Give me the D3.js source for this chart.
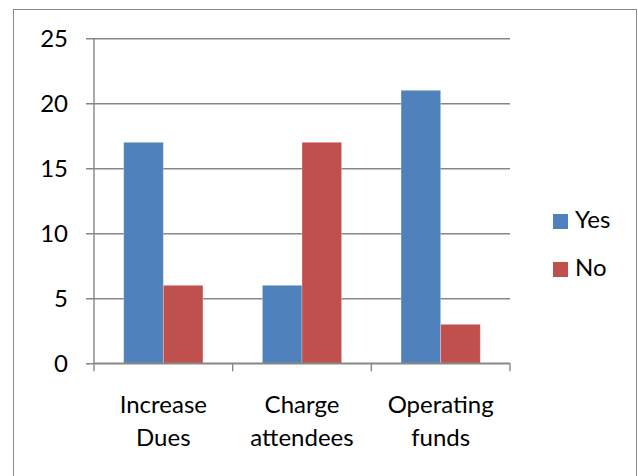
<!DOCTYPE html>
<html>
<head>
<meta charset="utf-8">
<script src="https://cdn.jsdelivr.net/npm/d3@7"></script>
<style>
  html, body { margin: 0; padding: 0; background: #fff; }
  svg { display: block; }
  text { font-family: Lato, "Open Sans", sans-serif; fill: #000; }
</style>
</head>
<body>
<svg id="chart" width="638" height="476"></svg>
<script>
// Survey responses per funding option
const categories = [["Increase", "Dues"], ["Charge", "attendees"], ["Operating", "funds"]];
const seriesNames = ["Yes", "No"];
const yesValues = [17, 6, 21];
const noValues = [6, 17, 3];
const yTicks = [0, 5, 10, 15, 20, 25];
const colors = { Yes: "#4F81BD", No: "#C0504D" };

const svg = d3.select("#chart");
const W = 638, H = 476;
const plot = { left: 94, right: 510, top: 38.3, bottom: 363.3 };
const gridColor = "#878787";
const fontSize = 24;

// outer frame
svg.append("rect")
  .attr("x", 13.5).attr("y", 9.5)
  .attr("width", 623).attr("height", 475)
  .attr("fill", "#fff").attr("stroke", "#8a8a8a").attr("stroke-width", 1);

const catKeys = categories.map(c => c.join(" "));
const x0 = d3.scaleBand().domain(catKeys).range([plot.left, plot.right]).padding(0);
const x1 = d3.scaleBand().domain(seriesNames).range([0, x0.bandwidth()])
  .paddingInner(0).paddingOuter(0.75);
const y = d3.scaleLinear().domain([0, 25]).range([plot.bottom, plot.top]);

// horizontal gridlines with left tick stubs
const yAxis = d3.axisLeft(y).tickValues(yTicks)
  .tickSize(plot.right - plot.left + 8).tickSizeOuter(0).tickPadding(18)
  .tickFormat(d3.format("d"));
const gy = svg.append("g").attr("transform", `translate(${plot.right},0)`).call(yAxis);
gy.select(".domain").remove();
gy.selectAll(".tick line").attr("stroke", gridColor).attr("stroke-width", 1.4);
gy.selectAll(".tick text")
  .attr("x", -(plot.right - plot.left) - 26)
  .style("font-size", fontSize + "px")
  .attr("dy", "0.35em");

// vertical axis line
svg.append("line")
  .attr("x1", plot.left).attr("x2", plot.left)
  .attr("y1", plot.top).attr("y2", plot.bottom)
  .attr("stroke", gridColor).attr("stroke-width", 1.4);

// bars
const rows = catKeys.map((k, i) => ({ key: k, Yes: yesValues[i], No: noValues[i] }));
const groups = svg.append("g").selectAll("g").data(rows).join("g")
  .attr("transform", d => `translate(${x0(d.key)},0)`);
groups.selectAll("rect")
  .data(d => seriesNames.map(s => ({ s, v: d[s] })))
  .join("rect")
  .attr("x", d => x1(d.s))
  .attr("width", x1.bandwidth())
  .attr("y", d => y(d.v))
  .attr("height", d => y(0) - y(d.v))
  .attr("fill", d => colors[d.s])
  .attr("stroke", "rgba(255,255,255,0.35)")
  .attr("stroke-width", 0.8);

// x axis with boundary ticks
const boundaries = catKeys.map(k => x0(k)).concat([plot.right]);
svg.append("line")
  .attr("x1", plot.left).attr("x2", plot.right)
  .attr("y1", plot.bottom).attr("y2", plot.bottom)
  .attr("stroke", gridColor).attr("stroke-width", 1.4);
svg.append("g").selectAll("line").data(boundaries).join("line")
  .attr("x1", d => d).attr("x2", d => d)
  .attr("y1", plot.bottom).attr("y2", plot.bottom + 8)
  .attr("stroke", gridColor).attr("stroke-width", 1.4);

// category labels (two lines)
const lbl = svg.append("g").selectAll("text").data(categories).join("text")
  .attr("text-anchor", "middle")
  .style("font-size", fontSize + "px");
lbl.each(function(d, i) {
  const cx = x0(catKeys[i]) + x0.bandwidth() / 2;
  d3.select(this).selectAll("tspan").data(d).join("tspan")
    .attr("x", cx)
    .attr("y", (t, j) => 413 + j * 33)
    .text(t => t);
});

// legend
const legend = svg.append("g").selectAll("g").data(seriesNames).join("g")
  .attr("transform", (d, i) => `translate(553,${214 + i * 48})`);
legend.append("rect").attr("width", 15).attr("height", 15).attr("fill", d => colors[d]);
legend.append("text").attr("x", 22).attr("y", 14)
  .style("font-size", fontSize + "px").text(d => d);
</script>
</body>
</html>
